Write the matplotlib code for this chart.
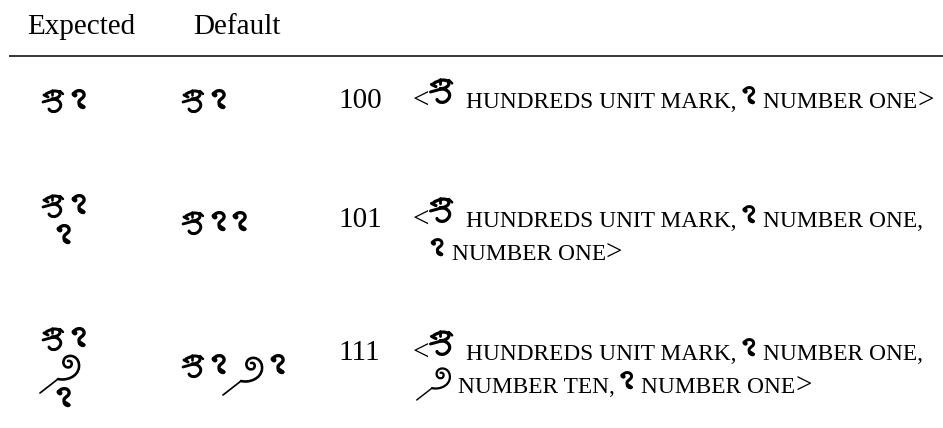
import matplotlib
matplotlib.use("Agg")
import matplotlib.pyplot as plt
from matplotlib.path import Path
from matplotlib.patches import PathPatch
from matplotlib.transforms import Affine2D

W, H = 943, 428
SERIF = "Liberation Serif"
MAIN = 21     # pt, body text
SC = 16.8     # pt, small caps for character names

# table content
headers = ["Expected", "Default"]
values = ["100", "101", "111"]
# glyphs of each number, in logical order
sequences = [["H", "1"], ["H", "1", "1"], ["H", "1", "10", "1"]]
# expected rendering: glyphs on each stacked line
expected_stacks = [[["H", "1"]],
                   [["H", "1"], ["1"]],
                   [["H", "1"], ["10"], ["1"]]]
names = {"H": "HUNDREDS UNIT MARK", "1": "NUMBER ONE", "10": "NUMBER TEN"}
# description line breaks after this many glyphs (0 = none)
wrap_after = [0, 2, 2]

# hand-drawn glyph shapes (the fonts here have no such script)
# coords in px, y down; strokes = (commands, line width px)
GLYPHS = {
    "H": dict(off=0, w=21, body=0, strokes=[
        ([("M", 1, 5), ("L", 5, 7)], 3.0),
        ([("M", 3, 4), ("C", 8, 1, 13, 0, 16, 2)], 3.0),
        ([("M", 16, 2), ("C", 19, 5, 15, 9, 9, 9)], 3.0),
        ([("M", 0, 12), ("L", 11, 9)], 2.8),
        ([("M", 9, 9), ("C", 17, 9, 20, 15, 16, 19), ("C", 13, 23, 7, 22, 6, 19)], 3.0),
        ([("M", 9, 0), ("L", 9, 5)], 2.6),
        ([("M", 17, 1), ("L", 20, 4)], 2.4),
    ]),
    "1": dict(off=0, w=12, body=0, strokes=[
        ([("M", 1, 4), ("C", 2, 0, 10, -1, 11, 4), ("C", 12, 8, 6, 9, 6, 12),
          ("C", 6, 16, 8, 18, 11, 17)], 3.3),
        ([("M", 1, 4), ("L", 2, 5)], 5.0),
        ([("M", 7, 15), ("L", 10, 17)], 4.6),
    ]),
    "10": dict(off=-11, w=29, body=7, strokes=[
        ([("M", 0, 40), ("L", 18, 26)], 1.7),
        ([("M", 18, 26), ("C", 26, 28, 38, 24, 39, 14), ("C", 40, 4, 30, 0, 25, 5),
          ("C", 21, 10, 25, 16, 30, 14), ("C", 33, 12, 32, 7, 28, 8)], 2.6),
    ]),
}
INLINE_SCALE = {"H": 1.08, "1": 0.9, "10": 0.85}
INLINE_TOP = {"H": 29, "1": 21, "10": 27}   # px above baseline
INLINE_GAP = {"H": 13, "1": 9, "10": 7}     # px after glyph


def build(cmds):
    verts, codes = [], []
    for c in cmds:
        if c[0] == "M":
            verts.append(c[1:]); codes.append(Path.MOVETO)
        elif c[0] == "L":
            verts.append(c[1:]); codes.append(Path.LINETO)
        else:
            verts += [c[1:3], c[3:5], c[5:7]]; codes += [Path.CURVE4] * 3
    return Path(verts, codes)


fig = plt.figure(figsize=(W / 100, H / 100), dpi=100)
ax = fig.add_axes([0, 0, 1, 1])
ax.set_xlim(0, W)
ax.set_ylim(H, 0)
ax.axis("off")
fig.canvas.draw()
renderer = fig.canvas.get_renderer()


def draw_glyph(key, x, top, k=1.0):
    g = GLYPHS[key]
    tr = Affine2D().scale(k).translate(x + g["off"] * k, top) + ax.transData
    for cmds, lw in g["strokes"]:
        ax.add_patch(PathPatch(build(cmds), transform=tr, fill=False, color="black",
                               lw=lw * k * 0.72, capstyle="round", joinstyle="round"))
    return x + g["w"] * k


def put(x, y, s, size):
    t = ax.text(x, y, s, fontsize=size, family=SERIF, va="baseline", ha="left")
    return t.get_window_extent(renderer).x1


# header and rule
ax.text(27, 34, headers[0], fontsize=MAIN, family=SERIF, va="baseline")
ax.text(193, 34, headers[1], fontsize=MAIN, family=SERIF, va="baseline")
ax.plot([9, W], [56, 56], color="black", lw=1.1, solid_capstyle="butt")

baselines = [108, 227, 360]
exp_tops = [[90, 0], [195, 225], [328, 353, 388]]
def_tops = [90, 212, 355]
LEAD = 33
space = 7

for r, val in enumerate(values):
    # expected column, stacked
    for li, line in enumerate(expected_stacks[r]):
        x = 43 if li == 0 else 58 - GLYPHS[line[0]]["body"]
        for g in line:
            x = draw_glyph(g, x, exp_tops[r][li]) + 9

    # default column, one line
    x = 183
    for g in sequences[r]:
        x = draw_glyph(g, x, def_tops[r]) + 9

    # code point value and description
    base = baselines[r]
    ax.text(338, base, val, fontsize=MAIN, family=SERIF, va="baseline")
    x = put(413, base, "<", MAIN) + 1
    seq = sequences[r]
    for i, g in enumerate(seq):
        k = INLINE_SCALE[g]
        x = draw_glyph(g, x, base - INLINE_TOP[g], k) + INLINE_GAP[g]
        last = i == len(seq) - 1
        x = put(x, base, names[g] + ("" if last else ","), SC)
        if last:
            put(x, base, ">", MAIN)
        elif wrap_after[r] and i + 1 == wrap_after[r]:
            base += LEAD
            x = 432 - GLYPHS[seq[i + 1]]["body"] * INLINE_SCALE[seq[i + 1]]
        else:
            x += space

fig.savefig("out.png", dpi=100)
